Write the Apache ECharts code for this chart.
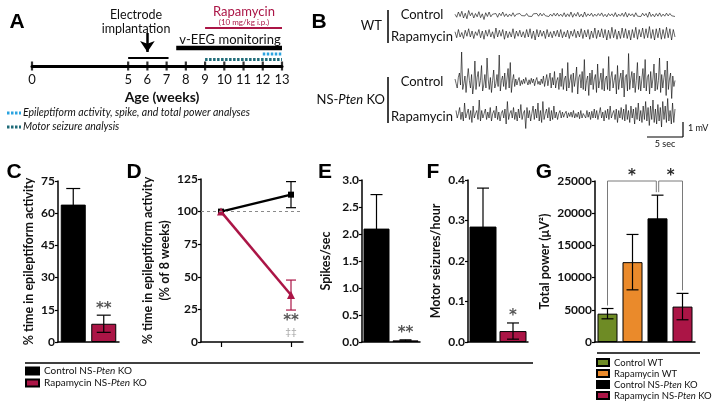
<!DOCTYPE html>
<html><head><meta charset="utf-8">
<script src="https://cdn.jsdelivr.net/npm/echarts@6/dist/echarts.min.js"></script>
<style>html,body{margin:0;padding:0;background:#fff}#c{width:714px;height:412px}</style>
</head><body><div id="c"></div><script>
// ---------- data ----------
const timelineTicks = [0,5,6,7,8,9,10,11,12,13];
const electrodeWindow = [5, 7.1];
const implantWeek = 6;
const eegWindow = [7.5, 13];
const rapaWindow = [9, 13];
const epiWindow = [12, 13];
const motorWindow = [9, 13];

const wtCtrlTrace = [0.05,-0.15,0.2,-0.1,0.25,-0.2,0.12,-0.25,0.3,-0.05,0.15,-0.2,0.1,-0.12,0.22,-0.18,0.08,-0.3,0.15,-0.1,
0.2,-0.12,0.05,-0.08,0.1,-0.15,0.12,-0.05,0.2,-0.1,0.08,-0.12,0.06,-0.08,0.15,-0.1,0.05,-0.06,0.1,-0.04,
0.08,-0.06,0.1,-0.08,0.05,-0.1,0.08,-0.04,0.1,-0.08,0.12,-0.06,0.1,-0.05,0.08,-0.1,0.06,-0.08,0.12,-0.07,
0.12,-0.08,0.06,-0.1,0.15,-0.12,0.08,-0.1,0.2,-0.15,0.1,-0.08,0.18,-0.12,0.06,-0.14,0.2,-0.1,0.08,-0.06,
0.12,-0.1,0.06,-0.08,0.1,-0.05,0.14,-0.1,0.05,-0.12,0.1,-0.06,0.08,-0.1,0.16,-0.12,0.06,-0.08,0.12,-0.1,
0.18,-0.14,0.1,-0.06,0.08,-0.12,0.15,-0.08,0.05,-0.1,0.12,-0.06,0.1,-0.15,0.2,-0.1,0.06,-0.12,0.1,-0.08,
0.14,-0.1,0.06,-0.08,0.12,-0.06,0.1,-0.05,0.08,-0.1];
const wtRapaTrace = [0.15,-0.25,0.3,-0.2,0.1,-0.3,0.25,-0.15,0.35,-0.2,0.2,-0.3,0.15,-0.1,0.3,-0.25,0.2,-0.35,0.25,-0.15,
0.3,-0.2,0.15,-0.3,0.4,-0.2,0.25,-0.15,0.3,-0.35,0.2,-0.25,0.15,-0.2,0.35,-0.3,0.2,-0.15,0.25,-0.2,
0.15,-0.25,0.3,-0.2,0.35,-0.3,0.2,-0.4,0.3,-0.2,0.25,-0.15,0.2,-0.3,0.3,-0.2,0.15,-0.25,0.2,-0.15,
0.25,-0.2,0.3,-0.25,0.15,-0.2,0.25,-0.3,0.2,-0.15,0.3,-0.25,0.2,-0.2,0.35,-0.3,0.25,-0.2,0.3,-0.35,
0.2,-0.25,0.4,-0.3,0.25,-0.2,0.35,-0.25,0.3,-0.4,0.25,-0.3,0.45,-0.25,0.3,-0.35,0.2,-0.3,0.4,-0.25,
0.35,-0.3,0.25,-0.4,0.3,-0.25,0.45,-0.35,0.3,-0.2,0.4,-0.3,0.35,-0.25,0.5,-0.3,0.3,-0.4,0.35,-0.25,
0.4,-0.35,0.3,-0.3,0.45,-0.25,0.35,-0.4,0.3,-0.2];
const koCtrlTrace = [0.2,-0.1,-0.4,0.3,0.6,-0.2,2.0,-0.5,-0.1,0.4,-0.7,0.2,0.9,0.1,-0.4,0.5,-0.8,-0.2,1.4,-0.5,
0.3,0.7,-0.3,0.1,1.1,-0.6,-0.2,0.5,-0.4,1.6,0.2,-0.5,0.3,-0.7,0.1,0.8,-0.4,-0.1,0.5,-0.3,
1.8,-0.6,0.1,0.4,-0.3,0.6,-0.5,0.2,0.9,-0.4,1.3,-0.7,0.1,0.5,-0.3,0.2,-0.2,0.1,0.3,-0.25,
0.1,-0.15,0.2,-0.1,0.3,0.05,-0.2,0.15,-0.15,0.25,-0.05,0.2,-0.25,0.1,0.3,-0.15,0.05,-0.2,0.2,-0.1,
0.4,-0.3,0.1,0.5,-0.25,0.2,0.6,-0.4,0.3,-0.2,0.7,-0.4,0.1,0.3,-0.5,0.6,-0.3,0.9,-0.5,0.2,
0.4,-0.6,1.3,-0.4,0.1,0.5,-0.7,0.6,-0.3,0.2,1.0,-0.8,0.3,0.5,-0.4,0.7,-0.5,1.5,-0.6,0.1,
0.4,-0.9,0.6,-0.2,0.8,-0.5,0.2,0.5,-0.7,1.2,-0.4,0.1,0.6,-0.5,0.9,-0.6,0.2,0.4,-0.5,1.7,
-0.6,0.3,0.7,-0.4,0.1,0.5,-0.8,1.1,-0.5,0.2,0.6,-0.4,0.8,-1.0,0.3,0.5,-0.6,1.9,-0.5,0.2,
0.7,-0.4,0.6,-0.7,0.1,1.3,-0.5,0.4,-0.6,0.2,0.9,-0.4,1.5,-0.6,0.3,0.5,-0.8,0.7,-0.4,0.2,
1.2,-0.6,0.6,-0.5,0.1,1.6,-0.7,0.5,-0.4,0.3,0.8,-0.9,1.4,-0.5,0.2,0.6,-1.1,0.4,-0.3,0.1];
const koRapaTrace = [0.3,-0.2,0.1,0.5,-0.3,0.2,-0.4,0.8,-0.2,0.1,0.4,-0.3,0.3,-0.5,0.6,-0.2,0.1,0.3,-0.3,1.0,
-0.4,0.3,-0.2,0.1,0.4,-0.3,0.2,-0.2,0.5,-0.4,0.1,0.3,-0.2,0.6,-0.3,0.2,-0.4,0.1,0.3,-0.2,
0.4,-0.6,0.9,-0.3,0.1,0.3,-0.2,0.5,-0.3,0.2,-0.4,0.4,-0.2,0.7,-0.3,0.1,0.3,-0.9,0.5,-0.2,
0.3,-0.4,0.1,0.6,-0.3,0.4,-0.2,0.8,-0.4,0.3,-0.5,0.9,-0.3,0.1,0.4,-0.2,0.5,-0.4,0.3,-0.3,
0.6,-0.2,0.2,-0.3,0.1,0.3,-0.2,0.2,-0.15,0.1,0.25,-0.2,0.15,-0.1,0.2,-0.15,0.3,-0.2,0.1,-0.15,
0.2,-0.25,0.3,-0.2,0.1,0.15,-0.2,0.3,-0.15,0.2,-0.3,0.25,-0.2,0.4,-0.2,0.3,-0.3,0.1,0.5,-0.2,
0.2,-0.4,0.3,-0.2,0.4,-0.3,0.6,-0.2,0.1,0.3,-0.3,0.4,-0.5,0.3,-0.2,0.5,-0.3,0.4,-0.4,0.7,
-0.3,0.3,-0.5,0.6,-0.2,0.4,-0.6,0.5,-0.3,0.8,-0.4,0.3,-0.5,0.6,-0.3,0.9,-0.4,0.5,-0.7,0.6,
-0.3,1.0,-0.5,0.4,-0.6,0.7,-0.4,0.5,-0.8,0.9,-0.3,0.6,-0.5,1.1,-0.4,0.3,-0.6,0.8,-0.5,0.4];

const groupsC = ['Control NS-Pten KO', 'Rapamycin NS-Pten KO'];
const epiPct = [64, 8.5];
const epiPctErr = [7.5, 4];

const weeksD = [8, 12];
const relCtrl = [100, 113];
const relCtrlErr = [0, 10];
const relRapa = [100, 36];
const relRapaErr = [0, 11.5];

const spikes = [2.1, 0.03];
const spikesErr = [0.63, 0.01];

const seizures = [0.285, 0.027];
const seizuresErr = [0.095, 0.02];

const groupsG = ['Control WT', 'Rapamycin WT', 'Control NS-Pten KO', 'Rapamycin NS-Pten KO'];
const power = [4400, 12400, 19200, 5500];
const powerErr = [800, 4300, 3600, 2050];
const powerSig = [[0, 2, '*'], [3, 2, '*']];

// ---------- styles ----------
const FONT = 'Lato';
const STAR = 'DejaVu Sans';
const RED = '#ab1546';
const colorOf = {'Control WT':'#6e8b25','Rapamycin WT':'#ea8a2b','Control NS-Pten KO':'#000000','Rapamycin NS-Pten KO':RED};

const chart = echarts.init(document.getElementById('c'), null, {renderer:'canvas'});

function yVal(gi, min, max, interval, name, gap, fmt){
  return {gridIndex:gi, type:'value', min, max, interval,
    axisLine:{show:true, lineStyle:{color:'#000', width:1.5}},
    axisTick:{show:true, length:3, lineStyle:{color:'#000', width:1.2}},
    axisLabel:{fontFamily:FONT, fontWeight:'bold', fontSize:12, color:'#111', margin:3, formatter:fmt || (v=>String(v))},
    splitLine:{show:false},
    name, nameLocation:'middle', nameRotate:90, nameGap:gap,
    nameTextStyle:{fontFamily:FONT, fontWeight:'bold', fontSize:12.5, color:'#111', lineHeight:17}};
}
function xCat(gi, data){
  return {gridIndex:gi, type:'category', data,
    axisLine:{show:true, onZero:false, lineStyle:{color:'#000', width:1.5}},
    axisTick:{show:false}, axisLabel:{show:false}};
}
function errSeries(ax, vals, errs, capW){
  return {type:'custom', xAxisIndex:ax, yAxisIndex:ax, z:5, silent:true,
    data: vals.map((v,i)=>[i, v, errs[i]]),
    encode:{x:0, y:1},
    renderItem:(params, api)=>{
      const x=api.value(0), v=api.value(1), e=api.value(2);
      const t=api.coord([x, v+e]), b=api.coord([x, v-e]);
      const st={stroke:'#000', lineWidth:1.2};
      return {type:'group', children:[
        {type:'line', shape:{x1:t[0],y1:t[1],x2:b[0],y2:b[1]}, style:st},
        {type:'line', shape:{x1:t[0]-capW/2,y1:t[1],x2:t[0]+capW/2,y2:t[1]}, style:st},
        {type:'line', shape:{x1:b[0]-capW/2,y1:b[1],x2:b[0]+capW/2,y2:b[1]}, style:st}
      ]};
    }};
}
function groupBars(ax, groups, vals, width){
  return groups.map((g,i)=>({type:'bar', name:g, xAxisIndex:ax, yAxisIndex:ax,
    data: vals.map((v,j)=> j===i ? v : '-'), barWidth:width, barGap:'-100%',
    itemStyle:{color:colorOf[g], borderColor:'#000', borderWidth:1}}));
}
function sigSeries(ax, pts, pos, dist){
  return {type:'scatter', xAxisIndex:ax, yAxisIndex:ax, symbolSize:0, silent:true, z:6,
    data: pts, label:{show:true, position:pos, distance:dist, formatter:p=>p.value[2],
      fontFamily:STAR, fontWeight:'bold', fontSize:15, color:'#2a2a2a', lineHeight:11,
      rich:{g:{fontFamily:FONT, fontWeight:'normal', fontSize:10, color:'#888', lineHeight:10}}}};
}
function rich(name){ return name.replace('Pten', '{i|Pten}'); }

const traceGrids = [
  {left:455, top:0, width:220, height:30},
  {left:455, top:19, width:220, height:30},
  {left:455, top:44.5, width:220, height:75},
  {left:456, top:92.5, width:219, height:45}
];
const traceRanges = [[-1,1],[-1,1],[-2.5,2.5],[-1.5,1.5]];
const traces = [wtCtrlTrace, wtRapaTrace, koCtrlTrace, koRapaTrace];

const grids = [
  {left:32, top:0, width:250, height:66},
  ...traceGrids,
  {left:58, top:181, width:61, height:161},   // C
  {left:201, top:179, width:102, height:163}, // D
  {left:362, top:180, width:58, height:162},  // E
  {left:468, top:180, width:60, height:162},  // F
  {left:595, top:181, width:100, height:161}  // G
];

const xAxes = [
  {gridIndex:0, type:'value', min:0, max:13, interval:1, position:'bottom',
    axisLine:{show:true, onZero:false, lineStyle:{color:'#000', width:3}}, axisTick:{show:false}, splitLine:{show:false},
    axisLabel:{customValues:timelineTicks, formatter:v=>timelineTicks.includes(v)?String(v):'', fontFamily:FONT, fontSize:13, color:'#111', margin:7}},
  ...traces.map((t,i)=>({gridIndex:i+1, type:'category', data:t.map((_,j)=>j), boundaryGap:false, show:false})),
  xCat(5, groupsC),
  {gridIndex:6, type:'value', min:8-20/17.5, max:12+12/17.5,
    axisLine:{show:true, onZero:false, lineStyle:{color:'#000', width:1.5}},
    axisTick:{show:true, customValues:weeksD, length:5, lineStyle:{color:'#000', width:1.2}},
    axisLabel:{show:false}, splitLine:{show:false}},
  xCat(7, groupsC),
  xCat(8, groupsC),
  xCat(9, groupsG)
];
const yAxes = [
  {gridIndex:0, type:'value', min:0, max:66, inverse:true, show:false},
  ...traceRanges.map((r,i)=>({gridIndex:i+1, type:'value', min:r[0], max:r[1], show:false})),
  yVal(5, 0, 75, 15, '% time in epileptiform activity', 18),
  yVal(6, 0, 125, 25, '% time in epileptiform activity\n(% of 8 weeks)', 17),
  yVal(7, 0, 3, 0.5, 'Spikes/sec', 28, v=>v.toFixed(1)),
  yVal(8, 0, 0.4, 0.1, 'Motor seizures/hour', 20, v=>v.toFixed(1)),
  yVal(9, 0, 25000, 5000, 'Total power (\u03bcV\u00b2)', 38)
];

const lineSeg = (pts, y, style) => ({type:'line', xAxisIndex:0, yAxisIndex:0, symbol:'none', silent:true,
  data: pts.map(w=>[w, y]), lineStyle:style});

const series = [
  // A timeline
  lineSeg(electrodeWindow, 58, {color:'#000', width:2}),
  lineSeg(eegWindow, 48, {color:'#000', width:4.5}),
  lineSeg(rapaWindow, 28, {color:RED, width:2}),
  lineSeg(epiWindow, 54, {color:'#2aa3e0', width:3, type:[2.5,1.5]}),
  lineSeg(motorWindow, 59.5, {color:'#1e6b78', width:3, type:[2.5,1.5]}),
  {type:'scatter', xAxisIndex:0, yAxisIndex:0, symbol:'rect', symbolSize:[2.2,9], clip:false, silent:true,
    itemStyle:{color:'#000'}, data: timelineTicks.map(w=>[w, 66]), z:4},
  {type:'lines', coordinateSystem:'cartesian2d', xAxisIndex:0, yAxisIndex:0, silent:true,
    symbol:['none','arrow'], symbolSize:11,
    lineStyle:{color:'#000', width:2.5, opacity:1},
    data:[{coords:[[implantWeek, 33],[implantWeek, 52]]}]},
  // B traces
  ...traces.map((t,i)=>({type:'line', xAxisIndex:i+1, yAxisIndex:i+1, symbol:'none', silent:true,
    data:t, lineStyle:{color:'#000', width:0.6}, clip:false})),
  // C
  ...groupBars(5, groupsC, epiPct, 25),
  errSeries(5, epiPct, epiPctErr, 14),
  sigSeries(5, [[1, epiPct[1]+epiPctErr[1], '**']], 'top', 1),
  // D
  {type:'line', name:groupsC[0], xAxisIndex:6, yAxisIndex:6, data:weeksD.map((w,i)=>[w, relCtrl[i]]),
    symbol:'rect', symbolSize:6, itemStyle:{color:'#000'}, lineStyle:{color:'#000', width:2.5}, z:3,
    markLine:{silent:true, symbol:'none', label:{show:false}, data:[{yAxis:100}],
      lineStyle:{color:'#8a8a8a', type:[3,3], width:1}}},
  {type:'line', name:groupsC[1], xAxisIndex:6, yAxisIndex:6, data:weeksD.map((w,i)=>[w, relRapa[i]]),
    symbol:'triangle', symbolSize:8, itemStyle:{color:RED}, lineStyle:{color:RED, width:2.5}, z:4},
  {type:'custom', xAxisIndex:6, yAxisIndex:6, z:5, silent:true,
    data: weeksD.map((w,i)=>[w, relCtrl[i], relCtrlErr[i], 0]).concat(weeksD.map((w,i)=>[w, relRapa[i], relRapaErr[i], 1])).filter(d=>d[2]>0),
    encode:{x:0,y:1},
    renderItem:(params, api)=>{
      const x=api.value(0), v=api.value(1), e=api.value(2), c=api.value(3)?RED:'#000';
      const t=api.coord([x,v+e]), b=api.coord([x,v-e]); const st={stroke:c, lineWidth:1.2};
      return {type:'group', children:[
        {type:'line', shape:{x1:t[0],y1:t[1],x2:b[0],y2:b[1]}, style:st},
        {type:'line', shape:{x1:t[0]-5,y1:t[1],x2:t[0]+5,y2:t[1]}, style:st},
        {type:'line', shape:{x1:b[0]-5,y1:b[1],x2:b[0]+5,y2:b[1]}, style:st}]};
    }},
  sigSeries(6, [[weeksD[1], relRapa[1]-relRapaErr[1], '**\n{g|\u2021\u2021}']], 'bottom', 6),
  // E
  ...groupBars(7, groupsC, spikes, 26),
  errSeries(7, spikes, spikesErr, 12),
  sigSeries(7, [[1, spikes[1]+spikesErr[1], '**']], 'top', 1),
  // F
  ...groupBars(8, groupsC, seizures, 27),
  errSeries(8, seizures, seizuresErr, 12),
  sigSeries(8, [[1, seizures[1]+seizuresErr[1], '*']], 'top', 1),
  // G
  ...groupBars(9, groupsG, power, 20),
  errSeries(9, power, powerErr, 12),
  {type:'custom', xAxisIndex:9, yAxisIndex:9, z:6, silent:true,
    data: powerSig.map(p=>[p[0], p[1]]), encode:{x:0, y:1},
    renderItem:(params, api)=>{
      const s = powerSig[params.dataIndex];
      const top = api.coord([0, 25000])[1];
      const pa = api.coord([s[0], power[s[0]]+powerErr[s[0]]]);
      const pb = api.coord([s[1], power[s[1]]+powerErr[s[1]]]);
      const dir = s[0] < s[1] ? -1 : 1;
      const xb = pb[0] + dir*1.2;
      const st = {stroke:'#7a7a7a', lineWidth:1};
      return {type:'group', children:[
        {type:'polyline', shape:{points:[[pa[0], pa[1]-3],[pa[0], top],[xb, top],[xb, pb[1]-3]]}, style:Object.assign({fill:null}, st)},
        {type:'text', style:{text:s[2], x:(pa[0]+xb)/2, y:top+3, align:'center', verticalAlign:'bottom',
          fontFamily:STAR, fontWeight:'bold', fontSize:15, fill:'#2a2a2a'}}
      ]};
    }}
];

const T = (text, x, y, o) => ({type:'text', silent:true, style:Object.assign({text, x, y, align:'center', verticalAlign:'middle',
  fontFamily:FONT, fontSize:12.5, fill:'#111'}, o||{})});
const L = (x1,y1,x2,y2,o) => ({type:'line', silent:true, shape:{x1,y1,x2,y2}, style:Object.assign({stroke:'#000', lineWidth:1.3}, o||{})});
const P = (t,x,y) => T(t, x, y, {fontFamily:'Liberation Sans', fontWeight:'bold', fontSize:21, fill:'#000'});

const graphic = [
  P('A', 17, 22), P('B', 319, 22), P('C', 14, 172), P('D', 134, 172), P('E', 325, 172), P('F', 433, 172), P('G', 544, 172),
  // A texts
  T('Electrode\nimplantation', 136, 22, {lineHeight:13.5, fontSize:12.5}),
  T('v-EEG monitoring', 230, 40, {fontSize:13}),
  T('Rapamycin', 244, 12, {fill:RED, fontSize:13}),
  T('(10 mg/kg i.p.)', 244, 22, {fill:RED, fontSize:8}),
  T('Age (weeks)', 162, 97, {fontSize:14, fontWeight:'bold'}),
  L(7, 113, 21, 113, {stroke:'#2aa3e0', lineWidth:3, lineDash:[2.5,1.5]}),
  T('Epileptiform activity, spike, and total power analyses', 23, 113, {align:'left', fontStyle:'italic', fontSize:10.5}),
  L(7, 127, 21, 127, {stroke:'#1e6b78', lineWidth:3, lineDash:[2.5,1.5]}),
  T('Motor seizure analysis', 23, 127, {align:'left', fontStyle:'italic', fontSize:10.5}),
  // B labels
  T('WT', 382, 26, {align:'right', fontSize:13}),
  L(388, 10, 388, 43, {lineWidth:1.5}),
  T('Control', 422, 15, {fontSize:13}),
  T('Rapamycin', 422, 37, {fontSize:13}),
  T('NS-{i|Pten} KO', 385, 100, {align:'right', fontSize:13, rich:{i:{fontStyle:'italic', fontFamily:FONT, fontSize:13, fill:'#111'}}}),
  L(388, 77, 388, 123, {lineWidth:1.5}),
  T('Control', 422, 82, {fontSize:13}),
  T('Rapamycin', 422, 117, {fontSize:13}),
  L(683, 122, 683, 137, {lineWidth:1.2}),
  L(647, 137, 683, 137, {lineWidth:1.2}),
  T('1 mV', 688, 128, {align:'left', fontSize:9}),
  T('5 sec', 665, 144, {fontSize:9}),
  // separators
  L(25, 363, 533, 363, {lineWidth:1.5}),
  L(597, 353, 700, 353, {lineWidth:1.5})
];

const legendBase = {orient:'vertical', icon:'rect', itemWidth:13, itemHeight:7, itemGap:0, selectedMode:false, padding:0,
  formatter:rich};
const legendText = (fs, lh) => ({fontFamily:FONT, fontSize:fs, color:'#111', lineHeight:lh,
  rich:{i:{fontStyle:'italic', fontFamily:FONT, fontSize:fs, color:'#111', lineHeight:lh}}});

chart.setOption({
  animation:false,
  backgroundColor:'#fff',
  textStyle:{fontFamily:FONT},
  grid:grids, xAxis:xAxes, yAxis:yAxes, series, graphic,
  legend:[
    Object.assign({}, legendBase, {left:25, top:365, data:groupsC, textStyle:legendText(10, 12)}),
    Object.assign({}, legendBase, {left:596, top:357, itemWidth:12, data:groupsG, textStyle:legendText(9.5, 11)})
  ]
});
</script></body></html>
